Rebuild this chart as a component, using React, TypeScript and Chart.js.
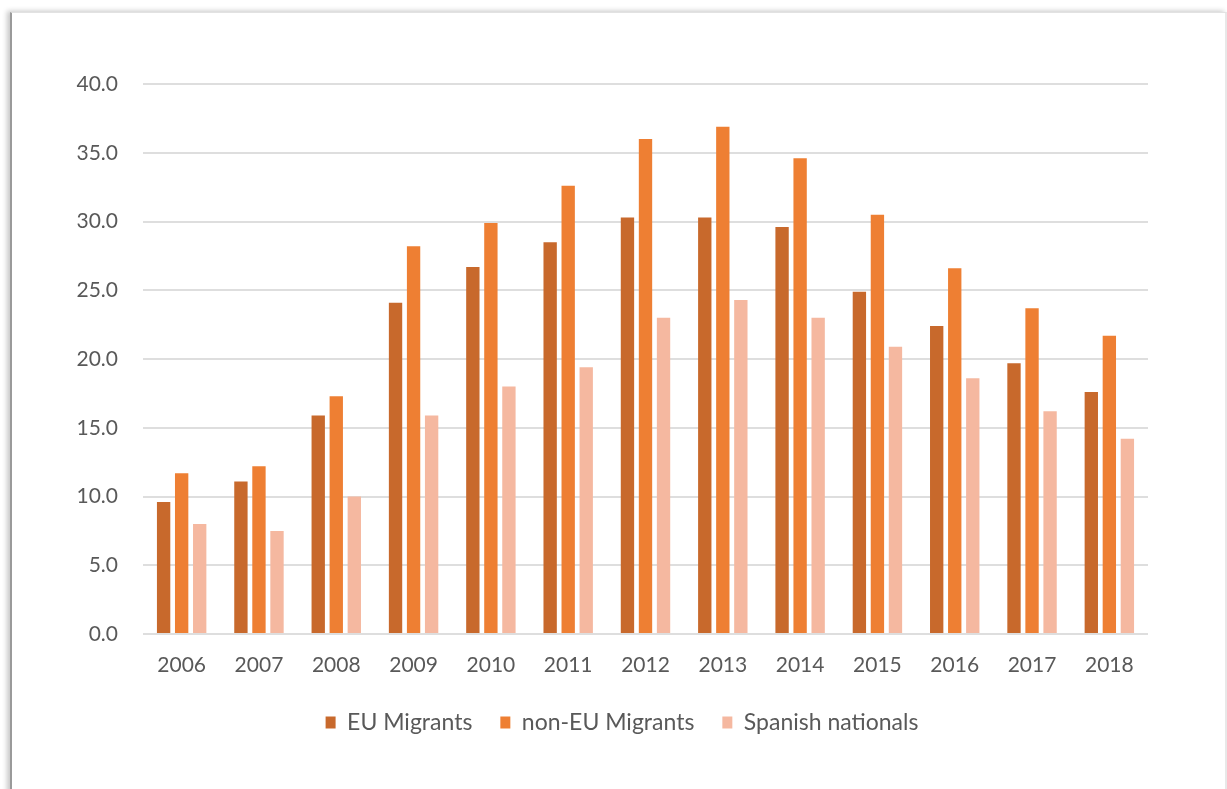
import React, { useEffect, useRef } from "react";
import { Chart, registerables } from "chart.js";

Chart.register(...registerables);

// Years on the category axis
const years = ["2006", "2007", "2008", "2009", "2010", "2011", "2012", "2013", "2014", "2015", "2016", "2017", "2018"];

// Rates per group, one value per year
const euMigrants = [9.6, 11.1, 15.9, 24.1, 26.7, 28.5, 30.3, 30.3, 29.6, 24.9, 22.4, 19.7, 17.6];
const nonEuMigrants = [11.7, 12.2, 17.3, 28.2, 29.9, 32.6, 36.0, 36.9, 34.6, 30.5, 26.6, 23.7, 21.7];
const spanishNationals = [8.0, 7.5, 10.0, 15.9, 18.0, 19.4, 23.0, 24.3, 23.0, 20.9, 18.6, 16.2, 14.2];

// Value axis range
const yMin = 0;
const yMax = 40;
const yStep = 5;

const W = 1227;
const H = 789;
const FONT = "Lato, 'Open Sans', sans-serif";
const TEXT = "#595959";
const LEGEND_CENTRE_X = 622;

// Moves the bottom legend so its row is centred on a fixed x position
const placeLegend = {
  id: "placeLegend",
  afterLayout(chart: any) {
    const lg = chart.legend;
    if (!lg) return;
    const shift = LEGEND_CENTRE_X - (lg.left + lg.right) / 2;
    lg.left += shift;
    lg.right += shift;
  },
};

export default function App() {
  const canvasRef = useRef<HTMLCanvasElement | null>(null);

  useEffect(() => {
    const canvas = canvasRef.current;
    if (!canvas) return;
    const chart = new Chart(canvas, {
      type: "bar",
      data: {
        labels: years,
        datasets: [
          { label: "EU Migrants", data: euMigrants, backgroundColor: "#C8692C" },
          { label: "non-EU Migrants", data: nonEuMigrants, backgroundColor: "#EE7F33" },
          { label: "Spanish nationals", data: spanishNationals, backgroundColor: "#F5B8A0" },
        ],
      },
      plugins: [placeLegend],
      options: {
        responsive: false,
        animation: false,
        devicePixelRatio: 1,
        layout: { padding: { top: 84, right: 79, bottom: 45, left: 0 } },
        datasets: { bar: { categoryPercentage: 0.7, barPercentage: 0.74 } },
        scales: {
          x: {
            grid: { display: false, drawTicks: false },
            border: { display: false },
            ticks: { color: TEXT, font: { family: FONT, size: 21 }, padding: 19 },
            afterFit: (s: any) => {
              s.height = 49;
            },
          },
          y: {
            min: yMin,
            max: yMax,
            grid: { color: "#DEDEDE", lineWidth: 2, drawTicks: false },
            border: { display: false },
            ticks: {
              stepSize: yStep,
              color: TEXT,
              font: { family: FONT, size: 21 },
              padding: 25,
              callback: (v: any) => Number(v).toFixed(1),
            },
            afterFit: (s: any) => {
              s.width = 143;
            },
          },
        },
        plugins: {
          legend: {
            position: "bottom",
            labels: {
              color: TEXT,
              font: { family: FONT, size: 23 },
              boxWidth: 10,
              boxHeight: 12,
              padding: 28,
            },
          },
          tooltip: { enabled: false },
        },
      },
    });
    return () => chart.destroy();
  }, []);

  return (
    <div style={{ position: "fixed", left: 0, top: 0, width: W, height: H, background: "#fff", overflow: "hidden" }}>
      <div
        style={{
          position: "absolute",
          left: 10,
          top: 12,
          width: 1213,
          height: 900,
          borderLeft: "2px solid #9a9a9a",
          borderTop: "1px solid #e2e2e2",
          borderRight: "2px solid #e8e8e8",
          boxShadow: "-3px -1px 5px rgba(0,0,0,0.22)",
          background: "#fff",
        }}
      />
      <canvas
        ref={canvasRef}
        width={W}
        height={H}
        style={{ position: "absolute", left: 0, top: 0, width: W, height: H }}
      />
    </div>
  );
}
